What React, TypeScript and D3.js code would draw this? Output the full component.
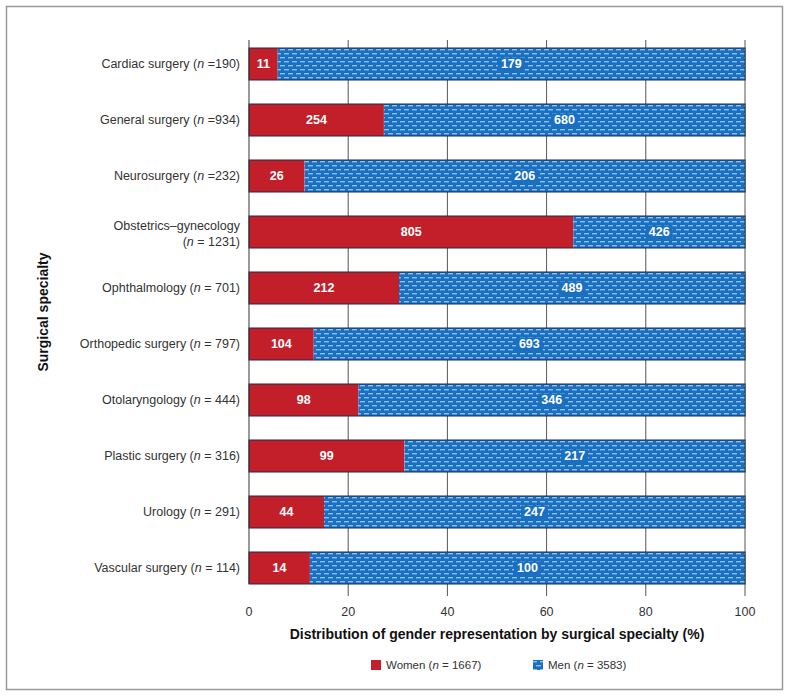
import { useEffect, useRef } from 'react';
import * as d3 from 'd3';

const specialties = [
  'Cardiac surgery',
  'General surgery',
  'Neurosurgery',
  'Obstetrics–gynecology',
  'Ophthalmology',
  'Orthopedic surgery',
  'Otolaryngology',
  'Plastic surgery',
  'Urology',
  'Vascular surgery',
];
const totals = [190, 934, 232, 1231, 701, 797, 444, 316, 291, 114];
// "=" spacing differs in the source labels
const nSep = [' =', ' =', ' =', ' = ', ' = ', ' = ', ' = ', ' = ', ' = ', ' = '];
const women = [11, 254, 26, 805, 212, 104, 98, 99, 44, 14];
const men = [179, 680, 206, 426, 489, 693, 346, 217, 247, 100];
const xTicks = [0, 20, 40, 60, 80, 100];

const RED = '#c21f2a';
const BLUE = '#1b6fc0';
const FONT = '"Liberation Sans", Arial, Helvetica, sans-serif';

export default function App() {
  const svgRef = useRef<SVGSVGElement>(null);

  useEffect(() => {
    if (!svgRef.current) return;
    const svg = d3.select(svgRef.current);
    svg.selectAll('*').remove();

    const plotTop = 40;
    const plotBottom = 584;
    const x = d3.scaleLinear().domain([0, 100]).range([249, 745]);
    const y = d3
      .scaleBand()
      .domain(specialties)
      .range([plotTop, 592])
      .paddingInner(24 / 56)
      .paddingOuter(8 / 56);

    const defs = svg.append('defs');
    const pat = defs
      .append('pattern')
      .attr('id', 'menPat')
      .attr('patternUnits', 'userSpaceOnUse')
      .attr('width', 8)
      .attr('height', 8);
    pat.append('rect').attr('width', 8).attr('height', 8).attr('fill', BLUE);
    pat.append('rect').attr('x', 0).attr('y', 1).attr('width', 5).attr('height', 1.4).attr('fill', '#8cc2ee');
    pat.append('rect').attr('x', 4).attr('y', 5).attr('width', 5).attr('height', 1.4).attr('fill', '#8cc2ee');
    pat.append('rect').attr('x', -4).attr('y', 5).attr('width', 5).attr('height', 1.4).attr('fill', '#8cc2ee');

    // frame
    svg
      .append('rect')
      .attr('x', 6.5)
      .attr('y', 6.5)
      .attr('width', 776)
      .attr('height', 683)
      .attr('fill', 'white')
      .attr('stroke', '#999')
      .attr('stroke-width', 1.5);

    // gridlines + ticks
    svg
      .append('g')
      .selectAll('line')
      .data(xTicks.slice(1))
      .enter()
      .append('line')
      .attr('x1', (d) => x(d))
      .attr('x2', (d) => x(d))
      .attr('y1', plotTop)
      .attr('y2', plotBottom + 12)
      .attr('stroke', '#555')
      .attr('stroke-width', 1);

    const rows = svg
      .append('g')
      .selectAll('g')
      .data(specialties.map((s, i) => ({ s, i })))
      .enter()
      .append('g');

    rows.each(function ({ s, i }) {
      const g = d3.select(this);
      const pw = (women[i] / totals[i]) * 100;
      const yy = y(s)!;
      const bh = y.bandwidth();
      g.append('rect')
        .attr('x', x(0))
        .attr('y', yy)
        .attr('width', x(pw) - x(0))
        .attr('height', bh)
        .attr('fill', RED);
      g.append('rect')
        .attr('x', x(pw))
        .attr('y', yy)
        .attr('width', x(100) - x(pw))
        .attr('height', bh)
        .attr('fill', 'url(#menPat)');
      g.append('rect')
        .attr('x', x(0))
        .attr('y', yy)
        .attr('width', x(100) - x(0))
        .attr('height', bh)
        .attr('fill', 'none')
        .attr('stroke', '#1d2a4a')
        .attr('stroke-width', 1);
      g.append('text')
        .attr('x', (x(0) + x(pw)) / 2)
        .attr('y', yy + bh / 2)
        .attr('dy', '0.35em')
        .attr('text-anchor', 'middle')
        .attr('fill', 'white')
        .attr('font-weight', 'bold')
        .attr('font-size', 12.5)
        .text(women[i]);
      const mt = g
        .append('text')
        .attr('x', (x(pw) + x(100)) / 2)
        .attr('y', yy + bh / 2)
        .attr('dy', '0.35em')
        .attr('text-anchor', 'middle')
        .attr('fill', 'white')
        .attr('font-weight', 'bold')
        .attr('font-size', 12.5)
        .text(men[i]);
      const bb = (mt.node() as SVGTextElement).getBBox();
      g.insert('rect', 'text:last-of-type')
        .attr('x', bb.x - 3)
        .attr('y', bb.y)
        .attr('width', bb.width + 6)
        .attr('height', bb.height)
        .attr('fill', BLUE);

      // label
      const lab = g
        .append('text')
        .attr('x', 240)
        .attr('text-anchor', 'end')
        .attr('font-size', 12.5)
        .attr('fill', '#333');
      if (s.length > 20) {
        lab.attr('y', yy + bh / 2 - 2);
        lab.append('tspan').attr('x', 240).text(s);
        const t2 = lab.append('tspan').attr('x', 240).attr('dy', '1.25em').text('(');
        t2.append('tspan').attr('font-style', 'italic').text('n');
        t2.append('tspan').text(`${nSep[i]}${totals[i]})`);
      } else {
        lab.attr('y', yy + bh / 2).attr('dy', '0.35em');
        lab.append('tspan').text(`${s} (`);
        lab.append('tspan').attr('font-style', 'italic').text('n');
        lab.append('tspan').text(`${nSep[i]}${totals[i]})`);
      }
    });

    // left axis line
    svg
      .append('line')
      .attr('x1', x(0))
      .attr('x2', x(0))
      .attr('y1', plotTop)
      .attr('y2', plotBottom)
      .attr('stroke', '#333');

    // x tick labels
    svg
      .append('g')
      .selectAll('text')
      .data(xTicks)
      .enter()
      .append('text')
      .attr('x', (d) => x(d))
      .attr('y', 616)
      .attr('text-anchor', 'middle')
      .attr('font-size', 12.5)
      .attr('fill', '#333')
      .text((d) => d);

    svg
      .append('text')
      .attr('x', (x(0) + x(100)) / 2)
      .attr('y', 639)
      .attr('text-anchor', 'middle')
      .attr('font-size', 14)
      .attr('font-weight', 'bold')
      .attr('fill', '#111')
      .text('Distribution of gender representation by surgical specialty (%)');

    svg
      .append('text')
      .attr('transform', `translate(48, ${(plotTop + plotBottom) / 2}) rotate(-90)`)
      .attr('text-anchor', 'middle')
      .attr('font-size', 14)
      .attr('font-weight', 'bold')
      .attr('fill', '#111')
      .text('Surgical specialty');

    // legend
    const legend = [
      { label: 'Women', n: 1667, fill: RED, x: 371 },
      { label: 'Men', n: 3583, fill: 'url(#menPat)', x: 533 },
    ];
    const lg = svg.append('g');
    legend.forEach((d) => {
      lg.append('rect').attr('x', d.x).attr('y', 660).attr('width', 10).attr('height', 10).attr('fill', d.fill);
      const t = lg
        .append('text')
        .attr('x', d.x + 15)
        .attr('y', 669)
        .attr('font-size', 11.5)
        .attr('fill', '#333');
      t.append('tspan').text(`${d.label} (`);
      t.append('tspan').attr('font-style', 'italic').text('n');
      t.append('tspan').text(` = ${d.n})`);
    });
  }, []);

  return (
    <svg
      ref={svgRef}
      width={790}
      height={697}
      style={{ position: 'absolute', left: 0, top: 0, display: 'block', fontFamily: FONT }}
    />
  );
}
